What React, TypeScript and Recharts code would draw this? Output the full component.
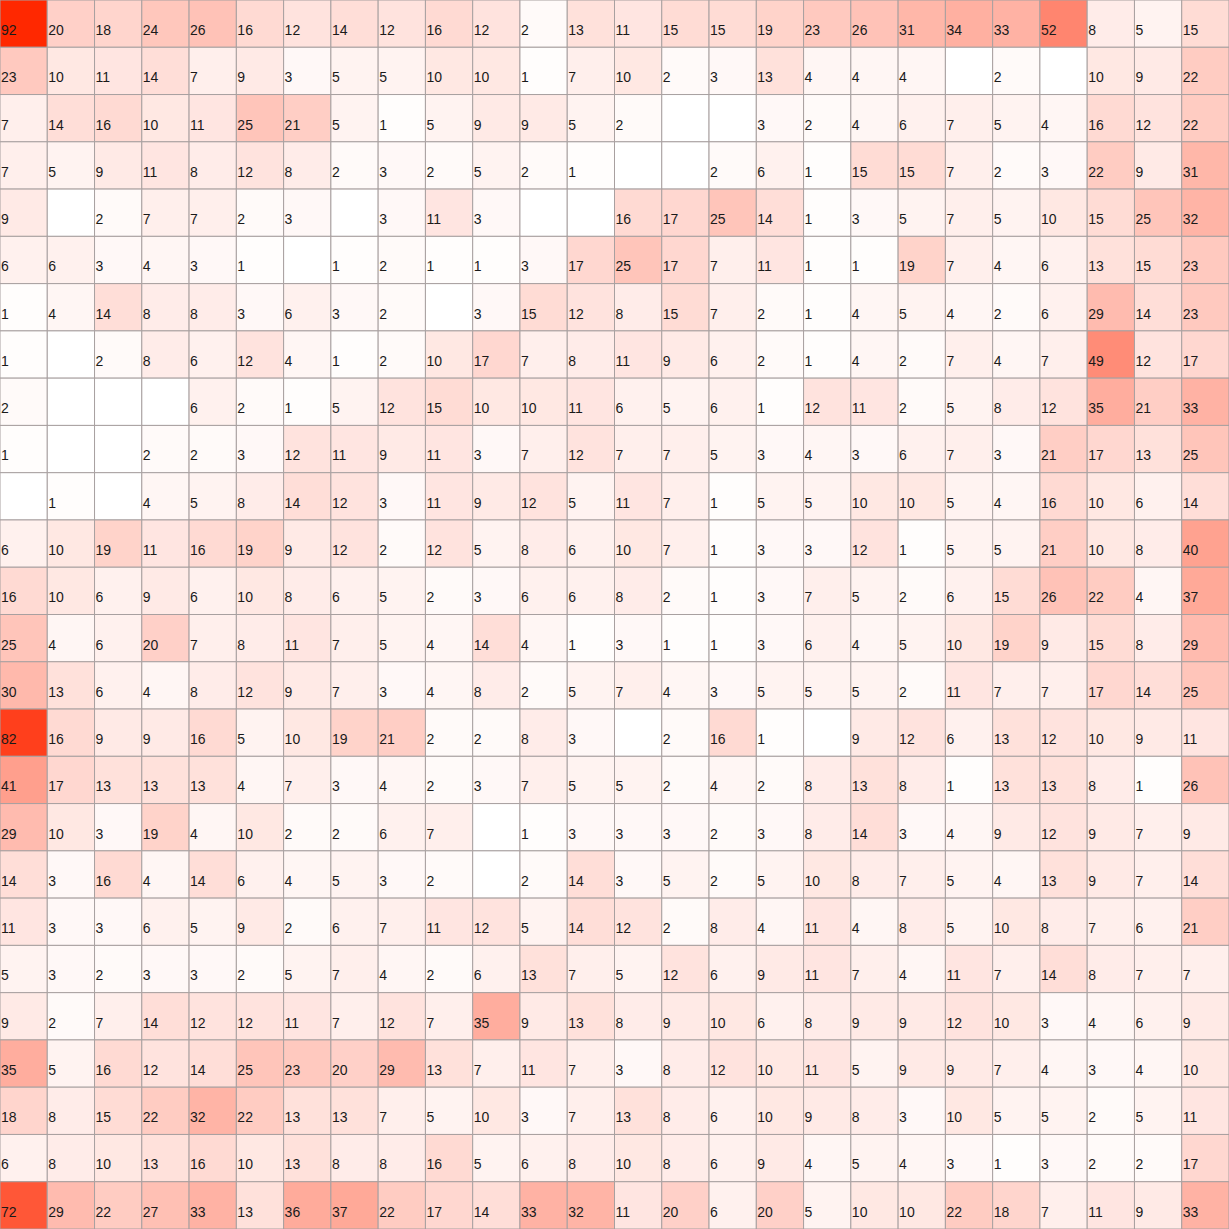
import React from 'react';
import { ScatterChart, Scatter, XAxis, YAxis } from 'recharts';

// 26 x 26 grid of counts, top row first; null = empty cell
const rows: Array<Array<number | null>> = [
  [92, 20, 18, 24, 26, 16, 12, 14, 12, 16, 12, 2, 13, 11, 15, 15, 19, 23, 26, 31, 34, 33, 52, 8, 5, 15],
  [23, 10, 11, 14, 7, 9, 3, 5, 5, 10, 10, 1, 7, 10, 2, 3, 13, 4, 4, 4, null, 2, null, 10, 9, 22],
  [7, 14, 16, 10, 11, 25, 21, 5, 1, 5, 9, 9, 5, 2, null, null, 3, 2, 4, 6, 7, 5, 4, 16, 12, 22],
  [7, 5, 9, 11, 8, 12, 8, 2, 3, 2, 5, 2, 1, null, null, 2, 6, 1, 15, 15, 7, 2, 3, 22, 9, 31],
  [9, null, 2, 7, 7, 2, 3, null, 3, 11, 3, null, null, 16, 17, 25, 14, 1, 3, 5, 7, 5, 10, 15, 25, 32],
  [6, 6, 3, 4, 3, 1, null, 1, 2, 1, 1, 3, 17, 25, 17, 7, 11, 1, 1, 19, 7, 4, 6, 13, 15, 23],
  [1, 4, 14, 8, 8, 3, 6, 3, 2, null, 3, 15, 12, 8, 15, 7, 2, 1, 4, 5, 4, 2, 6, 29, 14, 23],
  [1, null, 2, 8, 6, 12, 4, 1, 2, 10, 17, 7, 8, 11, 9, 6, 2, 1, 4, 2, 7, 4, 7, 49, 12, 17],
  [2, null, null, null, 6, 2, 1, 5, 12, 15, 10, 10, 11, 6, 5, 6, 1, 12, 11, 2, 5, 8, 12, 35, 21, 33],
  [1, null, null, 2, 2, 3, 12, 11, 9, 11, 3, 7, 12, 7, 7, 5, 3, 4, 3, 6, 7, 3, 21, 17, 13, 25],
  [null, 1, null, 4, 5, 8, 14, 12, 3, 11, 9, 12, 5, 11, 7, 1, 5, 5, 10, 10, 5, 4, 16, 10, 6, 14],
  [6, 10, 19, 11, 16, 19, 9, 12, 2, 12, 5, 8, 6, 10, 7, 1, 3, 3, 12, 1, 5, 5, 21, 10, 8, 40],
  [16, 10, 6, 9, 6, 10, 8, 6, 5, 2, 3, 6, 6, 8, 2, 1, 3, 7, 5, 2, 6, 15, 26, 22, 4, 37],
  [25, 4, 6, 20, 7, 8, 11, 7, 5, 4, 14, 4, 1, 3, 1, 1, 3, 6, 4, 5, 10, 19, 9, 15, 8, 29],
  [30, 13, 6, 4, 8, 12, 9, 7, 3, 4, 8, 2, 5, 7, 4, 3, 5, 5, 5, 2, 11, 7, 7, 17, 14, 25],
  [82, 16, 9, 9, 16, 5, 10, 19, 21, 2, 2, 8, 3, null, 2, 16, 1, null, 9, 12, 6, 13, 12, 10, 9, 11],
  [41, 17, 13, 13, 13, 4, 7, 3, 4, 2, 3, 7, 5, 5, 2, 4, 2, 8, 13, 8, 1, 13, 13, 8, 1, 26],
  [29, 10, 3, 19, 4, 10, 2, 2, 6, 7, null, 1, 3, 3, 3, 2, 3, 8, 14, 3, 4, 9, 12, 9, 7, 9],
  [14, 3, 16, 4, 14, 6, 4, 5, 3, 2, null, 2, 14, 3, 5, 2, 5, 10, 8, 7, 5, 4, 13, 9, 7, 14],
  [11, 3, 3, 6, 5, 9, 2, 6, 7, 11, 12, 5, 14, 12, 2, 8, 4, 11, 4, 8, 5, 10, 8, 7, 6, 21],
  [5, 3, 2, 3, 3, 2, 5, 7, 4, 2, 6, 13, 7, 5, 12, 6, 9, 11, 7, 4, 11, 7, 14, 8, 7, 7],
  [9, 2, 7, 14, 12, 12, 11, 7, 12, 7, 35, 9, 13, 8, 9, 10, 6, 8, 9, 9, 12, 10, 3, 4, 6, 9],
  [35, 5, 16, 12, 14, 25, 23, 20, 29, 13, 7, 11, 7, 3, 8, 12, 10, 11, 5, 9, 9, 7, 4, 3, 4, 10],
  [18, 8, 15, 22, 32, 22, 13, 13, 7, 5, 10, 3, 7, 13, 8, 6, 10, 9, 8, 3, 10, 5, 5, 2, 5, 11],
  [6, 8, 10, 13, 16, 10, 13, 8, 8, 16, 5, 6, 8, 10, 8, 6, 9, 4, 5, 4, 3, 1, 3, 2, 2, 17],
  [72, 29, 22, 27, 33, 13, 36, 37, 22, 17, 14, 33, 32, 11, 20, 6, 20, 5, 10, 10, 22, 18, 7, 11, 9, 33],
];

const SIZE = 1229;
const N = 26;
const CELL = SIZE / N;
const VMIN = 0;
const VMAX = 92;

const cells = rows.flatMap((row, r) =>
  row.map((v, c) => ({ x: c + 0.5, y: r + 0.5, v }))
);

// white -> red, linear in value
function fillFor(v: number | null) {
  if (v == null) return '#ffffff';
  const t = Math.max(0, Math.min(1, (v - VMIN) / (VMAX - VMIN)));
  const g = Math.round(255 - t * (255 - 40));
  const b = Math.round(255 - t * 255);
  return `rgb(255,${g},${b})`;
}

const Cell = (props: any) => {
  const { cx, cy, payload } = props;
  const x0 = cx - CELL / 2;
  const y0 = cy - CELL / 2;
  return (
    <g>
      <rect x={x0} y={y0} width={CELL} height={CELL} fill={fillFor(payload.v)} stroke="#a8a0a0" strokeWidth={1} />
      {payload.v != null && (
        <text x={x0 + 1} y={y0 + 35} fontSize={14} fontFamily="'Liberation Sans', Arial, sans-serif" fill="#1a1a1a">
          {payload.v}
        </text>
      )}
    </g>
  );
};

export default function App() {
  return (
    <div style={{ position: 'absolute', left: 0, top: 0, width: SIZE, height: SIZE, background: '#fff' }}>
      <ScatterChart width={SIZE} height={SIZE} margin={{ top: 0, right: 0, bottom: 0, left: 0 }}>
        <XAxis type="number" dataKey="x" domain={[0, N]} hide />
        <YAxis type="number" dataKey="y" domain={[0, N]} reversed hide />
        <Scatter data={cells} shape={Cell} isAnimationActive={false} />
      </ScatterChart>
    </div>
  );
}
